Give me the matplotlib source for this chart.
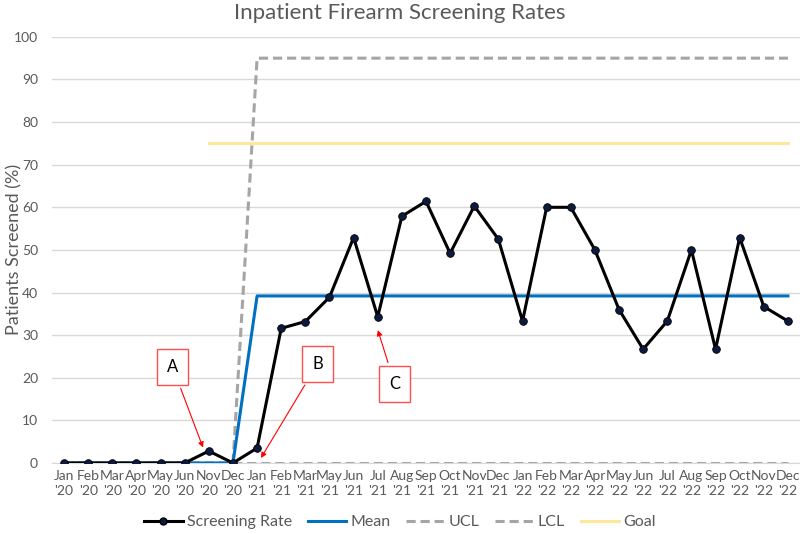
import matplotlib.pyplot as plt
from matplotlib.lines import Line2D

months = ["Jan\n'20", "Feb\n'20", "Mar\n'20", "Apr\n'20", "May\n'20", "Jun\n'20", "Nov\n'20", "Dec\n'20",
          "Jan\n'21", "Feb\n'21", "Mar\n'21", "May\n'21", "Jun\n'21", "Jul\n'21", "Aug\n'21", "Sep\n'21",
          "Oct\n'21", "Nov\n'21", "Dec\n'21",
          "Jan\n'22", "Feb\n'22", "Mar\n'22", "Apr\n'22", "May\n'22", "Jun\n'22", "Jul\n'22", "Aug\n'22",
          "Sep\n'22", "Oct\n'22", "Nov\n'22", "Dec\n'22"]
screening_rate = [0, 0, 0, 0, 0, 0, 2.8, 0,
                  3.5, 31.6, 33.2, 38.9, 52.9, 34.3, 57.9, 61.4, 49.2, 60.3, 52.5,
                  33.3, 60.0, 60.0, 50.0, 36.0, 26.7, 33.3, 50.0, 26.7, 52.9, 36.7, 33.3]
mean = [0] * 8 + [39.2] * 23
ucl = [0] * 8 + [95] * 23
lcl = [0] * 31
goal_start = 6
goal = [75] * (31 - goal_start)

plt.rcParams['font.family'] = ['Lato', 'DejaVu Sans']

fig = plt.figure(figsize=(8, 5.34), dpi=100)
ax = fig.add_axes([0.065, 0.133, 0.935, 0.798])
x = list(range(len(months)))

ax.plot(x, lcl, color='#A5A5A5', lw=2.2, dashes=(3, 1.6), label='LCL', zorder=2)
ax.plot(x, ucl, color='#A5A5A5', lw=2.2, dashes=(3, 1.6), label='UCL', zorder=2)
ax.plot(x[goal_start:], goal, color='#FFE699', lw=2.2, label='Goal', zorder=2)
ax.plot(x, mean, color='#0070C0', lw=2.2, label='Mean', zorder=3)
ax.plot(x, screening_rate, color='black', lw=2.2, marker='o', ms=5.5,
        mfc='#0D1A40', mec='black', mew=0.6, label='Screening Rate', zorder=4)

ax.set_ylim(0, 100)
ax.set_xlim(-0.5, len(months) - 0.5)
ax.set_yticks(range(0, 101, 10))
ax.set_xticks(x)
ax.set_xticklabels(months, linespacing=1.3)
ax.tick_params(axis='both', length=0, colors='#595959', labelsize=10)
ax.tick_params(axis='x', pad=5)
ax.tick_params(axis='y', pad=10)
ax.grid(axis='y', color='#D9D9D9', lw=1)
ax.set_axisbelow(True)
for s in ['top', 'right', 'left']:
    ax.spines[s].set_visible(False)
ax.spines['bottom'].set_color('#D9D9D9')

ax.set_ylabel('Patients Screened (%)', color='#595959', fontsize=13)
ax.yaxis.set_label_coords(-0.04, 0.5)
fig.suptitle('Inpatient Firearm Screening Rates', color='#595959', fontsize=16, y=0.995)

# annotation boxes
box = dict(boxstyle='square,pad=0.6', fc='white', ec='#FF5050', lw=1)
arrow = dict(arrowstyle='-|>', color='red', lw=0.8, mutation_scale=8)
ax.annotate('A', xy=(5.8, 3.0), xytext=(4.5, 22.5), ha='center', va='center',
            fontsize=12, bbox=box, arrowprops=arrow, zorder=5)
ax.annotate('B', xy=(8.1, 0.6), xytext=(10.5, 23.2), ha='center', va='center',
            fontsize=12, bbox=box, arrowprops=arrow, zorder=5)
ax.annotate('C', xy=(12.97, 31.8), xytext=(13.7, 18.6), ha='center', va='center',
            fontsize=12, bbox=box, arrowprops=arrow, zorder=5)

handles = [
    Line2D([], [], color='black', lw=2.2, marker='o', ms=5, mfc='#0D1A40', mec='black'),
    Line2D([], [], color='#0070C0', lw=2.2),
    Line2D([], [], color='#A5A5A5', lw=2.2, dashes=(3, 1.6)),
    Line2D([], [], color='#A5A5A5', lw=2.2, dashes=(3, 1.6)),
    Line2D([], [], color='#FFE699', lw=2.2),
]
fig.legend(handles, ['Screening Rate', 'Mean', 'UCL', 'LCL', 'Goal'], loc='center',
           bbox_to_anchor=(0.5, 0.022), ncol=5, frameon=False, fontsize=11.5,
           handlelength=2.4, handletextpad=0.25, columnspacing=1.0, labelcolor='#595959')

fig.savefig('out.png', dpi=100)
